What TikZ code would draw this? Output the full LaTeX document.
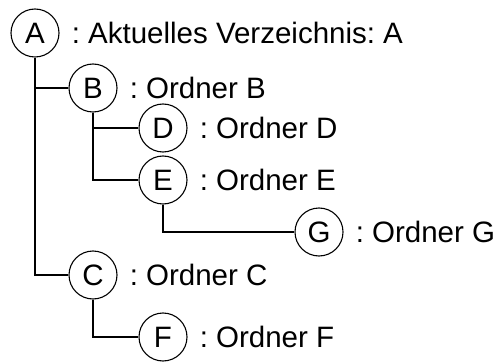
\documentclass[tikz,border=0pt]{standalone}
\usepackage{fontspec}
\setmainfont{Liberation Sans}
\usetikzlibrary{positioning}
\frenchspacing

\begin{document}
\begin{tikzpicture}[
    x=1pt, y=-1pt,
    node distance=12pt,
    folder/.style={
        draw,
        circle,
        line width=1.1pt,
        minimum size=48pt,
        inner sep=0pt,
        font=\fontsize{29.5}{34}\selectfont
    },
    lbl/.style={inner sep=0pt, font=\fontsize{29.5}{34}\selectfont},
    link/.style={line width=2pt}
]
\useasboundingbox (0,0) rectangle (497,363);

\node[folder] (a) at (35,33) {A};
\node[folder] (b) at (93,88) {B};
\node[folder] (d) at (163,128) {D};
\node[folder] (e) at (163,180) {E};
\node[folder] (g) at (319,232) {G};
\node[folder] (c) at (93,275) {C};
\node[folder] (f) at (163,337) {F};

\node[lbl, right=of a] (la) {: Aktuelles Verzeichnis: A};
\node[lbl, right=of b] (lb) {: Ordner B};
\node[lbl, right=of d] (ld) {: Ordner D};
\node[lbl, right=of e] (le) {: Ordner E};
\node[lbl, right=of g] (lg) {: Ordner G};
\node[lbl, right=of c] (lc) {: Ordner C};
\node[lbl, right=of f] (lf) {: Ordner F};

\draw[link] (a.south) |- (b.west);
\draw[link] (a.south) |- (c.west);
\draw[link] (b.south) |- (d.west);
\draw[link] (b.south) |- (e.west);
\draw[link] (e.south) |- (g.west);
\draw[link] (c.south) |- (f.west);
\end{tikzpicture}
\end{document}
